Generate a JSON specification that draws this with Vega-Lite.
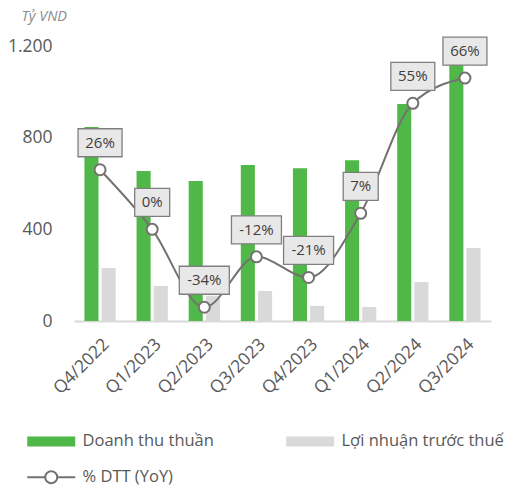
{
  "$schema": "https://vega.github.io/schema/vega-lite/v6.json",
  "width": 417,
  "height": 275,
  "autosize": {"type": "none"},
  "padding": {"left": 74, "top": 46, "right": 15, "bottom": 168},
  "config": {
    "font": "Open Sans",
    "view": {"stroke": null},
    "locale": {"number": {"decimal": ",", "thousands": ".", "grouping": [3], "currency": ["", ""]}}
  },
  "datasets": {
    "bars": [
      {"quy": "Q4/2022", "chi_tieu": "Doanh thu thuần", "gia_tri": 847},
      {"quy": "Q4/2022", "chi_tieu": "Lợi nhuận trước thuế", "gia_tri": 231},
      {"quy": "Q1/2023", "chi_tieu": "Doanh thu thuần", "gia_tri": 655},
      {"quy": "Q1/2023", "chi_tieu": "Lợi nhuận trước thuế", "gia_tri": 153},
      {"quy": "Q2/2023", "chi_tieu": "Doanh thu thuần", "gia_tri": 611},
      {"quy": "Q2/2023", "chi_tieu": "Lợi nhuận trước thuế", "gia_tri": 110},
      {"quy": "Q3/2023", "chi_tieu": "Doanh thu thuần", "gia_tri": 681},
      {"quy": "Q3/2023", "chi_tieu": "Lợi nhuận trước thuế", "gia_tri": 131},
      {"quy": "Q4/2023", "chi_tieu": "Doanh thu thuần", "gia_tri": 667},
      {"quy": "Q4/2023", "chi_tieu": "Lợi nhuận trước thuế", "gia_tri": 66},
      {"quy": "Q1/2024", "chi_tieu": "Doanh thu thuần", "gia_tri": 702},
      {"quy": "Q1/2024", "chi_tieu": "Lợi nhuận trước thuế", "gia_tri": 61},
      {"quy": "Q2/2024", "chi_tieu": "Doanh thu thuần", "gia_tri": 947},
      {"quy": "Q2/2024", "chi_tieu": "Lợi nhuận trước thuế", "gia_tri": 170},
      {"quy": "Q3/2024", "chi_tieu": "Doanh thu thuần", "gia_tri": 1130},
      {"quy": "Q3/2024", "chi_tieu": "Lợi nhuận trước thuế", "gia_tri": 319}
    ],
    "yoy": [
      {"quy": "Q4/2022", "yoy": 26, "nhan": "26%"},
      {"quy": "Q1/2023", "yoy": 0, "nhan": "0%"},
      {"quy": "Q2/2023", "yoy": -34, "nhan": "-34%"},
      {"quy": "Q3/2023", "yoy": -12, "nhan": "-12%"},
      {"quy": "Q4/2023", "yoy": -21, "nhan": "-21%"},
      {"quy": "Q1/2024", "yoy": 7, "nhan": "7%"},
      {"quy": "Q2/2024", "yoy": 55, "nhan": "55%"},
      {"quy": "Q3/2024", "yoy": 66, "nhan": "66%"}
    ]
  },
  "layer": [
    {
      "data": {"name": "bars"},
      "mark": {"type": "bar"},
      "encoding": {
        "x": {
          "field": "quy", "type": "nominal", "sort": null,
          "scale": {"paddingInner": 0.4, "paddingOuter": 0.2},
          "axis": {
            "title": null, "labelAngle": -45, "labelFontSize": 17.5, "labelColor": "#595959",
            "ticks": false, "domainColor": "#d9d9d9", "domainWidth": 2, "labelPadding": 14
          }
        },
        "xOffset": {"field": "chi_tieu", "type": "nominal", "sort": null, "scale": {"paddingInner": 0.18, "paddingOuter": 0}},
        "y": {
          "field": "gia_tri", "type": "quantitative",
          "scale": {"domain": [0, 1200]},
          "axis": {
            "title": "Tỷ VND", "titleAngle": 0, "titleAlign": "left", "titleBaseline": "alphabetic",
            "titleX": -53, "titleY": -26, "titleFontStyle": "italic", "titleFontWeight": "normal",
            "titleFontSize": 14.5, "titleColor": "#8c8c8c",
            "values": [0, 400, 800, 1200], "format": ",d",
            "labelFontSize": 17.5, "labelColor": "#595959",
            "ticks": false, "domain": false, "grid": false, "labelPadding": 22
          }
        },
        "color": {
          "field": "chi_tieu", "type": "nominal", "sort": null,
          "scale": {"domain": ["Doanh thu thuần", "Lợi nhuận trước thuế"], "range": ["#50b848", "#d9d9d9"]},
          "legend": {
            "title": null, "orient": "none", "legendX": -31, "legendY": 387,
            "direction": "horizontal", "columns": 2, "columnPadding": 72,
            "symbolType": "M-4.8,-1H4.8V1H-4.8Z", "symbolSize": 100, "symbolStrokeWidth": 0,
            "labelOffset": 23, "labelFontSize": 16.5, "labelColor": "#595959", "labelLimit": 300
          }
        }
      }
    },
    {
      "data": {"name": "yoy"},
      "encoding": {
        "x": {"field": "quy", "type": "nominal", "sort": null},
        "y": {"field": "yoy", "type": "quantitative", "scale": {"domain": [-40, 80]}, "axis": null}
      },
      "layer": [
        {
          "mark": {"type": "line", "interpolate": "monotone", "strokeWidth": 2},
          "encoding": {
            "stroke": {
              "datum": "% DTT (YoY)",
              "scale": {"range": ["#767171"]},
              "legend": {
                "title": null, "orient": "none", "legendX": -31, "legendY": 423,
                "symbolType": "M-4.8,0H-1.2M1.2,0H4.8M1.2,0A1.2,1.2,0,1,1,-1.2,0A1.2,1.2,0,1,1,1.2,0Z",
                "symbolSize": 100, "symbolStrokeWidth": 2, "symbolFillColor": "white",
                "labelOffset": 23, "labelFontSize": 16.5, "labelColor": "#595959", "labelLimit": 300
              }
            }
          }
        },
        {
          "mark": {"type": "point", "filled": true, "fill": "white", "stroke": "#767171", "strokeWidth": 2, "size": 121, "opacity": 1}
        },
        {
          "mark": {"type": "point", "filled": true, "yOffset": -27, "fill": "#e8e8e8", "stroke": "#7f7f7f", "strokeWidth": 1.3, "size": 784, "opacity": 1},
          "encoding": {
            "shape": {
              "field": "nhan", "type": "nominal",
              "scale": {
                "domain": ["0%", "7%", "26%", "55%", "66%", "-34%", "-12%", "-21%"],
                "range": [
                  "M-1.25,-1H1.25V1H-1.25Z", "M-1.25,-1H1.25V1H-1.25Z",
                  "M-1.571,-1H1.571V1H-1.571Z", "M-1.571,-1H1.571V1H-1.571Z", "M-1.571,-1H1.571V1H-1.571Z",
                  "M-1.786,-1H1.786V1H-1.786Z", "M-1.786,-1H1.786V1H-1.786Z", "M-1.786,-1H1.786V1H-1.786Z"
                ]
              },
              "legend": null
            }
          }
        },
        {
          "mark": {"type": "text", "yOffset": -27, "fontSize": 15, "color": "#404040"},
          "encoding": {"text": {"field": "nhan", "type": "nominal"}}
        }
      ]
    }
  ],
  "resolve": {"scale": {"y": "independent"}}
}
